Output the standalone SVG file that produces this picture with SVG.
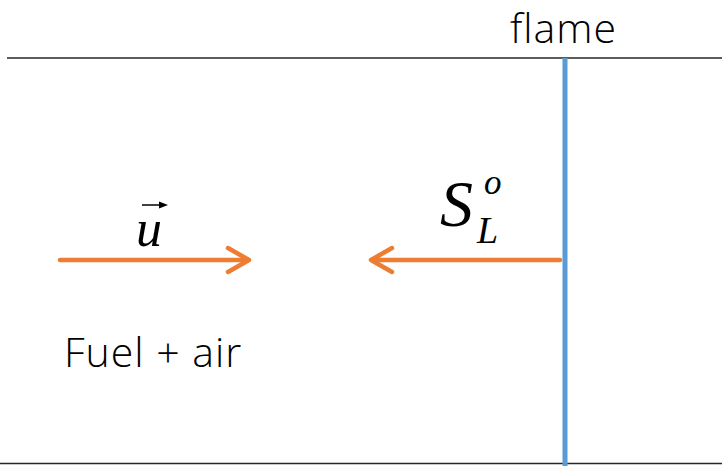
<svg xmlns="http://www.w3.org/2000/svg" width="722" height="469" viewBox="0 0 722 469">
<style>
.wall{stroke:#262626;stroke-width:1.5;fill:none}
.flow{stroke:#ED7D31;stroke-width:4.5;fill:none;stroke-linecap:round;stroke-linejoin:round}
.lbl{font-family:"Open Sans","Liberation Sans",sans-serif;font-weight:350;letter-spacing:1px;fill:#000}
.math{font-family:"Liberation Serif","DejaVu Serif",serif;font-style:italic;fill:#000}
</style>
<rect width="722" height="469" fill="#fff"/>
<g id="walls">
<line class="wall" x1="7" y1="58" x2="722" y2="58"/>
<line class="wall" x1="0" y1="463.5" x2="722" y2="463.5"/>
</g>
<g id="flame">
<line x1="565" y1="58" x2="565" y2="466" stroke="#5B9BD5" stroke-width="5"/>
<text class="lbl" x="510" y="43" font-size="41">flame</text>
</g>
<g id="connectors">
<line class="flow" x1="60" y1="260" x2="248" y2="260"/>
<polyline class="flow" points="228,248 249,260 228,272"/>
<line class="flow" x1="560" y1="260" x2="372" y2="260"/>
<polyline class="flow" points="392,248 371,260 392,272"/>
</g>
<g id="u-label">
<text class="math" x="136" y="246" font-size="52">u</text>
<line x1="142" y1="205" x2="162" y2="205" stroke="#000" stroke-width="1.5"/>
<polygon points="168,205 159,201.5 159,208.5" fill="#000"/>
</g>
<g id="SL-label">
<text class="math" x="440" y="226" font-size="66">S</text>
<text class="math" x="484" y="194" font-size="35">o</text>
<text class="math" x="477" y="243" font-size="38">L</text>
</g>
<g id="fuel">
<text class="lbl" x="64" y="367" font-size="41">Fuel + air</text>
</g>
</svg>
